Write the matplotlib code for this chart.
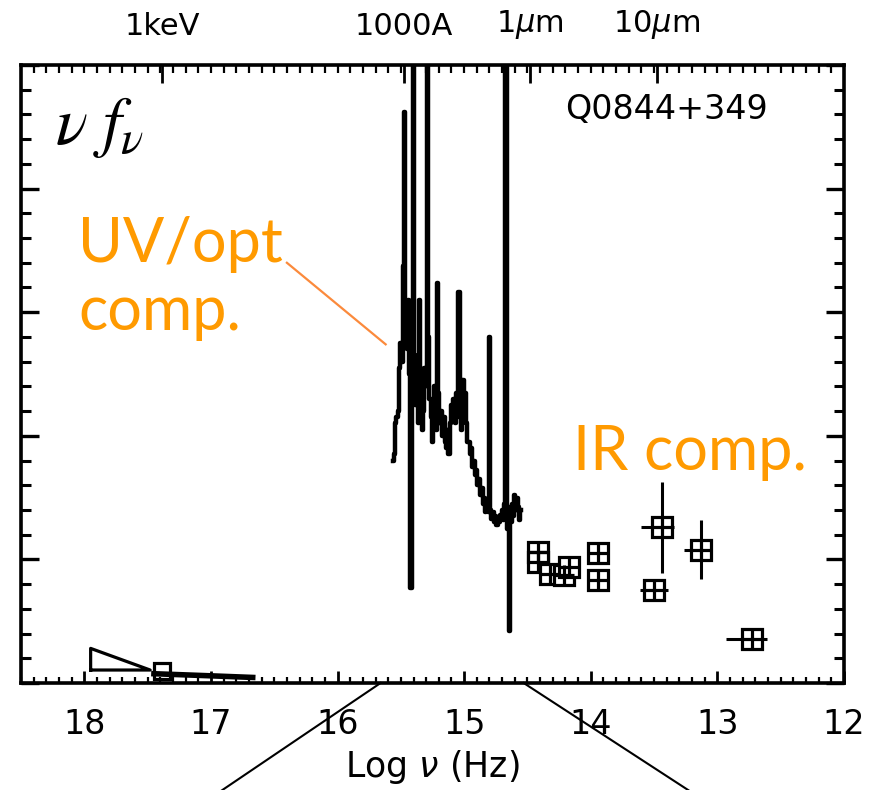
import numpy as np
import matplotlib
matplotlib.use('Agg')
from matplotlib import pyplot as plt

# UV/optical spectrum: log nu (Hz) and nu f_nu (arbitrary units)
spec_lognu = [15.56, 15.55, 15.54, 15.53, 15.52, 15.51, 15.50, 15.49, 15.48, 15.47,
              15.46, 15.45, 15.44, 15.43, 15.42, 15.41, 15.40, 15.39, 15.38, 15.37,
              15.36, 15.35, 15.34, 15.33, 15.32, 15.31, 15.30, 15.29, 15.28, 15.27,
              15.26, 15.25, 15.24, 15.23, 15.22, 15.21, 15.20, 15.19, 15.18, 15.17,
              15.16, 15.15, 15.14, 15.13, 15.12, 15.11, 15.10, 15.09, 15.08, 15.07,
              15.06, 15.05, 15.04, 15.03, 15.02, 15.01, 15.00, 14.99, 14.98, 14.97,
              14.96, 14.95, 14.94, 14.93, 14.92, 14.91, 14.90, 14.89, 14.88, 14.87,
              14.86, 14.85, 14.84, 14.83, 14.82, 14.81, 14.80, 14.79, 14.78, 14.77,
              14.76, 14.75, 14.74, 14.73, 14.72, 14.71, 14.70, 14.69, 14.68, 14.67,
              14.66, 14.65, 14.64, 14.63, 14.62, 14.61, 14.60, 14.59, 14.58, 14.57,
              14.56, 14.55]
spec_flux = [1.80, 1.85, 2.10, 2.15, 2.20, 2.55, 2.75, 2.60, 3.37, 4.62,
             2.95, 2.70, 3.10, 2.50, 0.77, 2.40, 5.50, 2.65, 2.25, 2.45,
             2.10, 3.10, 2.35, 2.05, 2.20, 2.55, 2.40, 5.50, 2.80, 2.30,
             2.15, 1.95, 2.25, 2.40, 2.05, 3.24, 2.35, 2.10, 2.20, 2.00,
             2.15, 1.95, 1.90, 2.05, 1.85, 2.10, 2.25, 2.20, 2.30, 2.10,
             2.35, 2.15, 3.16, 2.30, 2.05, 2.45, 2.25, 2.35, 2.10, 1.95,
             1.95, 1.85, 1.90, 1.75, 1.80, 1.68, 1.72, 1.60, 1.65, 1.52,
             1.58, 1.45, 1.50, 1.38, 1.45, 1.38, 2.80, 1.40, 1.33, 1.38,
             1.30, 1.35, 1.28, 1.33, 1.30, 1.36, 1.40, 1.32, 1.45, 5.50,
             1.25, 1.42, 0.42, 1.30, 1.45, 1.35, 1.52, 1.40, 1.50, 1.42,
             1.32, 1.40]

# IR photometry
ir_lognu = [14.42, 14.42, 14.32, 14.21, 14.17, 13.94, 13.94, 13.44, 13.50, 13.13, 12.73]
ir_flux = [1.06, 0.98, 0.88, 0.87, 0.94, 1.05, 0.83, 1.26, 0.75, 1.08, 0.36]
ir_yerr = [0, 0, 0, 0, 0, 0, 0, 0.37, 0, 0.24, 0]
ir_xerr_lo = [0, 0, 0, 0, 0, 0, 0, 0.10, 0.11, 0.09, 0.12]
ir_xerr_hi = [0, 0, 0, 0, 0, 0, 0, 0.16, 0.11, 0.13, 0.20]

# X-ray power law wedge and tail
xray_wedge_nu = [17.95, 17.95, 17.48, 17.95]
xray_wedge_f = [0.105, 0.28, 0.105, 0.105]
xray_tail_nu = [17.45, 17.05, 16.67]
xray_tail_f = [0.075, 0.06, 0.045]
xray_pt_nu = [17.39]
xray_pt_f = [0.10]

# top axis: 1keV, 1000A, 1um, 10um
top_freq = [2.418e17, 2.998e15, 2.998e14, 2.998e13]
top_labels = ['1keV', '1000A', r'1$\mu$m', r'10$\mu$m']

# zoom lines below the axis
zl_x = [15.66, 16.93]
zl_y = [0.0, -0.88]
zr_x = [14.53, 13.21]
zr_y = [0.0, -0.88]

orange = '#ff9a00'

fig = plt.figure(figsize=(8.76, 7.9), dpi=100)
ax = fig.add_axes([21/876, 1-683/790, (844-21)/876, (683-65)/790])

ax.plot(spec_lognu, spec_flux, color='k', lw=3.2, drawstyle='steps-mid')

ax.errorbar(ir_lognu, ir_flux, yerr=ir_yerr, xerr=[ir_xerr_lo, ir_xerr_hi],
            fmt='none', ecolor='k', elinewidth=2.2, capsize=0)
ax.plot(ir_lognu, ir_flux, 's', ms=14, mfc='white', mec='k', mew=2.3)
ax.plot(ir_lognu, ir_flux, '+', ms=14, mec='k', mew=2.3)

ax.plot(xray_wedge_nu, xray_wedge_f, color='k', lw=2.3)
ax.plot(xray_tail_nu, xray_tail_f, color='k', lw=4)
ax.plot(xray_pt_nu, xray_pt_f, 's', ms=11, mfc='none', mec='k', mew=2.3)

ax.set_xlim(18.5, 12)
ax.set_ylim(0, 5)
ax.set_xticks([18, 17, 16, 15, 14, 13, 12])
ax.set_xticks(np.arange(12, 18.51, 0.1), minor=True)
ax.set_yticks([0, 1, 2, 3, 4, 5])
ax.set_yticks(np.arange(0, 5.01, 0.2), minor=True)
ax.set_yticklabels([])
ax.tick_params(axis='x', which='major', direction='in', length=9, width=2,
               labelsize=24, pad=18)
ax.tick_params(axis='x', which='minor', direction='in', length=4, width=1.6)
ax.tick_params(axis='y', which='major', direction='in', length=13, width=2.4,
               left=True, right=True)
ax.tick_params(axis='y', which='minor', direction='in', length=7, width=2.2,
               left=True, right=True)
for s in ax.spines.values():
    s.set_linewidth(2.6)
ax.set_xlabel(r'Log $\nu$ (Hz)', fontsize=25, labelpad=5)

ax2 = ax.twiny()
ax2.set_xlim(ax.get_xlim())
ax2.set_xticks(np.log10(top_freq))
ax2.set_xticklabels(top_labels)
ax2.set_xticks(np.arange(12.1, 18.5, 0.1), minor=True)
ax2.tick_params(axis='x', which='major', direction='in', length=13, width=2,
                labelsize=22, pad=17)
ax2.tick_params(axis='x', which='minor', direction='in', length=6, width=1.6)

ax.text(18.23, 4.36, r'$\nu\ f_\nu$', fontsize=48, math_fontfamily='stix')
ax.text(14.2, 4.56, 'Q0844+349', fontsize=24)
ax.text(18.05, 3.41, 'UV/opt', fontsize=44, color=orange, family='Lato')
ax.text(18.05, 2.86, 'comp.', fontsize=44, color=orange, family='Lato')
ax.text(14.14, 1.72, 'IR comp.', fontsize=44, color=orange, family='Lato')
ax.plot([16.40, 15.62], [3.40, 2.74], color='#fb8a3c', lw=1.6)

ax.plot(zl_x, zl_y, color='k', lw=1.5, clip_on=False)
ax.plot(zr_x, zr_y, color='k', lw=1.5, clip_on=False)

fig.savefig('out.png', dpi=100)
